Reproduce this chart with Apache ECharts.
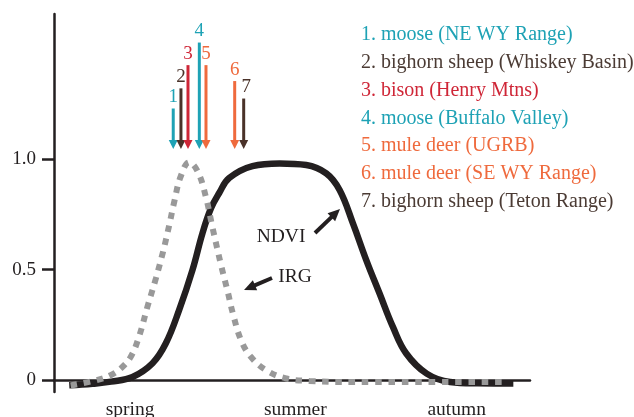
<!DOCTYPE html>
<html>
<head>
<meta charset="utf-8">
<script src="https://cdn.jsdelivr.net/npm/echarts@6/dist/echarts.min.js"></script>
<style>
html,body{margin:0;padding:0;background:#fff;}
#chart{width:634px;height:417px;}
</style>
</head>
<body>
<div id="chart"></div>
<script>
// ---- data ----
const ndviX = [3.2, 8.1, 12.0, 16.5, 20.7, 23.5, 26.3, 29.1, 31.2, 33.0, 34.7, 36.8, 41.7, 47.4, 53.0, 57.2, 60.0, 62.8, 65.6, 68.4, 71.2, 74.0, 78.3, 83.2, 89.0, 96.5];
const ndviY = [-0.023, -0.016, -0.006, 0.015, 0.077, 0.167, 0.318, 0.499, 0.665, 0.778, 0.846, 0.914, 0.968, 0.980, 0.973, 0.935, 0.860, 0.709, 0.543, 0.392, 0.241, 0.121, 0.030, -0.008, -0.014, -0.015];
const irgX = [3.5, 8.8, 11.9, 14.0, 16.1, 17.9, 19.6, 21.4, 22.9, 24.2, 25.3, 26.6, 28.4, 30.2, 31.9, 33.3, 35.1, 36.5, 37.6, 39.3, 41.4, 44.6, 48.8, 53.7, 62.8, 94.7];
const irgY = [-0.023, 0.0, 0.023, 0.053, 0.105, 0.200, 0.330, 0.460, 0.580, 0.700, 0.810, 0.920, 0.985, 0.943, 0.829, 0.690, 0.520, 0.400, 0.300, 0.181, 0.105, 0.045, 0.008, -0.003, -0.008, -0.008];

const seasonNames = ['spring', 'summer', 'autumn'];
const seasonPos = [16.0, 50.7, 84.6];
const yTicks = [0, 0.5, 1.0];
const yTickLabels = ['0', '0.5', '1.0'];

const arrowIds = ['1', '2', '3', '4', '5', '6', '7'];
const arrowTiming = [25.05, 26.67, 28.15, 30.53, 31.93, 37.96, 39.85];
const arrowTop = [1.228, 1.319, 1.424, 1.526, 1.424, 1.352, 1.273];
const arrowTip = [1.045, 1.045, 1.045, 1.045, 1.045, 1.045, 1.045];

const speciesNames = [
  '1. moose (NE WY Range)',
  '2. bighorn sheep (Whiskey Basin)',
  '3. bison (Henry Mtns)',
  '4. moose (Buffalo Valley)',
  '5. mule deer (UGRB)',
  '6. mule deer (SE WY Range)',
  '7. bighorn sheep (Teton Range)'
];

// ---- styles ----
const TEAL = '#1ea2b5', BROWN = '#4a3229', RED = '#cf2637', ORANGE = '#ef6a3d';
const arrowColors = [TEAL, BROWN, RED, TEAL, ORANGE, ORANGE, BROWN];
const legendColors = [TEAL, '#4b3b34', RED, TEAL, ORANGE, ORANGE, '#4b3b34'];
const INK = '#231f20';
const FONT = 'Liberation Serif';

const chart = echarts.init(document.getElementById('chart'), null, {renderer: 'canvas'});

function arrowGraphic(x1, y1, x2, y2, w, headLen, headW) {
  const dx = x2 - x1, dy = y2 - y1, L = Math.sqrt(dx*dx + dy*dy);
  const ux = dx / L, uy = dy / L, px = -uy, py = ux;
  const bx = x2 - ux*headLen, by = y2 - uy*headLen;
  return [
    {type: 'line', shape: {x1: x1, y1: y1, x2: bx + ux, y2: by + uy}, style: {stroke: INK, lineWidth: w}},
    {type: 'polygon', shape: {points: [[x2, y2], [bx + px*headW/2, by + py*headW/2], [bx - px*headW/2, by - py*headW/2]]}, style: {fill: INK}}
  ];
}

const graphics = [];
speciesNames.forEach((s, i) => {
  graphics.push({type: 'text', x: 361, y: 35 + i*27.8, style: {text: s, fill: legendColors[i], font: '20px "' + FONT + '"', textVerticalAlign: 'middle'}});
});
graphics.push({type: 'text', x: 281, y: 237, style: {text: 'NDVI', fill: INK, font: '19.5px "' + FONT + '"', textAlign: 'center', textVerticalAlign: 'middle'}});
graphics.push({type: 'text', x: 295, y: 277, style: {text: 'IRG', fill: INK, font: '19.5px "' + FONT + '"', textAlign: 'center', textVerticalAlign: 'middle'}});
arrowGraphic(315, 233, 340, 209, 4, 12, 11).forEach(g => graphics.push(g));
arrowGraphic(272, 278, 244, 290, 4, 12, 11).forEach(g => graphics.push(g));

const option = {
  animation: false,
  backgroundColor: '#fff',
  grid: {left: 54, right: 104, top: 14, bottom: 25, containLabel: false, outerBoundsMode: 'none'},
  xAxis: {
    type: 'value', min: 0, max: 100,
    axisLine: {show: true, lineStyle: {color: INK, width: 2.5}},
    axisTick: {show: false},
    splitLine: {show: false},
    axisLabel: {
      customValues: seasonPos,
      formatter: v => { const i = seasonPos.indexOf(v); return i >= 0 ? seasonNames[i] : ''; },
      color: INK, fontFamily: FONT, fontSize: 19.5, margin: 8
    }
  },
  yAxis: {
    type: 'value', min: -0.053, max: 1.655,
    axisLine: {show: true, lineStyle: {color: INK, width: 2.5}},
    axisTick: {show: true, customValues: yTicks, length: 12, lineStyle: {color: INK, width: 2.5}},
    splitLine: {show: false},
    axisLabel: {
      customValues: yTicks,
      formatter: v => { const i = yTicks.indexOf(v); return i >= 0 ? yTickLabels[i] : ''; },
      color: INK, fontFamily: FONT, fontSize: 19, margin: 18
    }
  },
  series: [
    {
      name: 'NDVI', type: 'line', smooth: 0.4, symbol: 'none', z: 2,
      data: ndviX.map((x, i) => [x, ndviY[i]]),
      lineStyle: {color: INK, width: 6.5, cap: 'butt'}
    },
    {
      name: 'IRG', type: 'line', smooth: 0.4, symbol: 'none', z: 3,
      data: irgX.map((x, i) => [x, irgY[i]]),
      lineStyle: {color: '#999999', width: 6, type: [6.5, 6.8], cap: 'butt'}
    },
    {
      name: 'migration', type: 'custom', z: 4,
      data: arrowIds.map((id, i) => [arrowTiming[i], arrowTop[i], arrowTip[i], i]),
      renderItem: function (params, api) {
        const i = api.value(3);
        const top = api.coord([api.value(0), api.value(1)]);
        const tip = api.coord([api.value(0), api.value(2)]);
        const c = arrowColors[i];
        const hx = 4.5, hl = 9;
        return {
          type: 'group',
          children: [
            {type: 'line', shape: {x1: top[0], y1: top[1], x2: tip[0], y2: tip[1] - hl + 1}, style: {stroke: c, lineWidth: 3}},
            {type: 'polygon', shape: {points: [[tip[0] - hx, tip[1] - hl], [tip[0] + hx, tip[1] - hl], [tip[0], tip[1]]]}, style: {fill: c}},
            {type: 'text', x: top[0] + (i === 6 ? 2.5 : 0), y: top[1] - 2, style: {text: arrowIds[i], fill: c, font: '19px "' + FONT + '"', textAlign: 'center', textVerticalAlign: 'bottom'}}
          ]
        };
      }
    }
  ],
  graphic: graphics
};
chart.setOption(option);
</script>
</body>
</html>
